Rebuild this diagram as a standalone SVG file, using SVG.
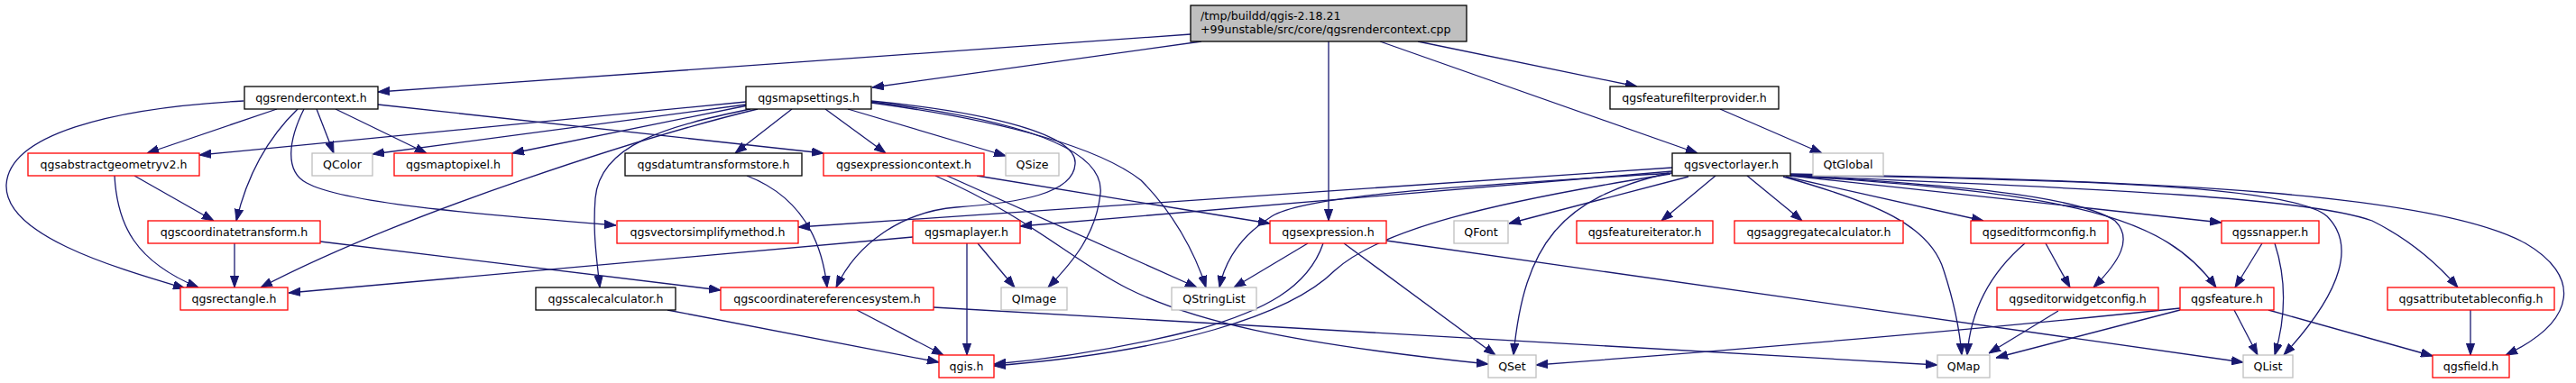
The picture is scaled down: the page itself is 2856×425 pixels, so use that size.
<svg xmlns="http://www.w3.org/2000/svg" width="2856" height="425" viewBox="0 0 2856 425">
<style>
.e path{fill:none;stroke:#191970;stroke-width:1.3}
.n rect{stroke-width:1.3}
.blk{fill:#fff;stroke:#000}
.red{fill:#fff;stroke:#ff0000}
.gry{fill:#fff;stroke:#bfbfbf}
.root{fill:#bfbfbf;stroke:#000}
text{font-family:"DejaVu Sans","Liberation Sans",sans-serif;font-size:12.6px;fill:#000;text-anchor:middle}
</style>
<defs>
<marker id="a" markerWidth="13" markerHeight="10" refX="13" refY="5" orient="auto" markerUnits="userSpaceOnUse">
<path d="M0,0.4 L13,5 L0,9.6 z" fill="#191970" stroke="#191970" stroke-width="1"/>
</marker>
</defs>
<g id="connectors" class="e" marker-end="url(#a)">
<path d="M1320,38 L419,102" marker-end="url(#a)"/>
<path d="M1332,46 L967,97" marker-end="url(#a)"/>
<path d="M1473,46 L1473,245" marker-end="url(#a)"/>
<path d="M1530,46 L1882,170" marker-end="url(#a)"/>
<path d="M1572,46 L1815,96" marker-end="url(#a)"/>
<path d="M270,112 C120,120 10,150 7,205 C5,260 120,295 205,320" marker-end="url(#a)"/>
<path d="M307,121 L163,170" marker-end="url(#a)"/>
<path d="M330,121 C300,150 275,190 262,245" marker-end="url(#a)"/>
<path d="M337,121 C320,155 315,190 340,203 C380,225 520,237 683,250" marker-end="url(#a)"/>
<path d="M351,121 L370,170" marker-end="url(#a)"/>
<path d="M372,121 L473,170" marker-end="url(#a)"/>
<path d="M419,116 L913,170" marker-end="url(#a)"/>
<path d="M827,113 L221,172" marker-end="url(#a)"/>
<path d="M827,116 L413,171" marker-end="url(#a)"/>
<path d="M829,117 L568,170" marker-end="url(#a)"/>
<path d="M840,121 C720,150 450,235 289,319" marker-end="url(#a)"/>
<path d="M832,121 C740,140 665,160 660,220 C657,260 662,290 665,319" marker-end="url(#a)"/>
<path d="M878,121 L815,170" marker-end="url(#a)"/>
<path d="M915,121 L982,170" marker-end="url(#a)"/>
<path d="M940,121 L1115,173" marker-end="url(#a)"/>
<path d="M966,113 C1150,135 1225,170 1220,215 C1215,260 1190,290 1162,319" marker-end="url(#a)"/>
<path d="M966,114 C1120,135 1220,165 1265,200 C1300,235 1325,280 1337,319" marker-end="url(#a)"/>
<path d="M966,112 C1100,125 1195,150 1192,182 C1190,215 1130,225 1060,230 C1000,235 950,270 927,319" marker-end="url(#a)"/>
<path d="M260,270 L260,319" marker-end="url(#a)"/>
<path d="M355,268 L799,322" marker-end="url(#a)"/>
<path d="M149,195 L237,245" marker-end="url(#a)"/>
<path d="M127,195 C130,250 150,290 220,319" marker-end="url(#a)"/>
<path d="M828,195 C880,215 910,255 917,319" marker-end="url(#a)"/>
<path d="M1083,195 L1408,248" marker-end="url(#a)"/>
<path d="M1050,195 L1327,319" marker-end="url(#a)"/>
<path d="M1037,195 C1140,240 1190,290 1250,320 C1320,355 1420,380 1650,404" marker-end="url(#a)"/>
<path d="M1012,263 L320,325" marker-end="url(#a)"/>
<path d="M1072,270 L1072,394" marker-end="url(#a)"/>
<path d="M1084,270 L1125,319" marker-end="url(#a)"/>
<path d="M1450,270 L1368,319" marker-end="url(#a)"/>
<path d="M1467,270 C1450,320 1400,345 1330,365 C1250,385 1170,398 1102,404" marker-end="url(#a)"/>
<path d="M1490,270 L1658,394" marker-end="url(#a)"/>
<path d="M1537,267 L2487,402" marker-end="url(#a)"/>
<path d="M1854,186 L885,252" marker-end="url(#a)"/>
<path d="M1854,190 L1131,251" marker-end="url(#a)"/>
<path d="M1854,192 C1650,205 1450,215 1410,240 C1375,262 1358,290 1352,319" marker-end="url(#a)"/>
<path d="M1852,193 C1650,225 1530,255 1480,300 C1430,350 1300,390 1102,406" marker-end="url(#a)"/>
<path d="M1850,192 C1730,220 1690,270 1678,394" marker-end="url(#a)"/>
<path d="M1872,196 L1673,248" marker-end="url(#a)"/>
<path d="M1902,195 L1842,245" marker-end="url(#a)"/>
<path d="M1937,195 L1998,245" marker-end="url(#a)"/>
<path d="M1977,196 C2080,225 2140,250 2155,300 C2168,340 2173,370 2175,394" marker-end="url(#a)"/>
<path d="M1980,196 L2199,245" marker-end="url(#a)"/>
<path d="M1985,194 C2150,205 2300,215 2345,245 C2365,265 2350,290 2321,319" marker-end="url(#a)"/>
<path d="M1985,195 L2463,247" marker-end="url(#a)"/>
<path d="M1985,195 C2300,215 2400,240 2457,319" marker-end="url(#a)"/>
<path d="M1985,194 C2300,200 2540,205 2580,240 C2610,270 2600,320 2532,394" marker-end="url(#a)"/>
<path d="M1985,195 C2350,210 2560,220 2630,245 C2670,265 2700,290 2725,319" marker-end="url(#a)"/>
<path d="M1985,193 C2400,200 2700,215 2800,270 C2860,305 2860,355 2778,394" marker-end="url(#a)"/>
<path d="M1907,121 L2020,170" marker-end="url(#a)"/>
<path d="M2268,270 L2295,319" marker-end="url(#a)"/>
<path d="M2245,270 C2210,300 2185,340 2181,394" marker-end="url(#a)"/>
<path d="M2282,345 L2205,392" marker-end="url(#a)"/>
<path d="M2508,270 L2478,319" marker-end="url(#a)"/>
<path d="M2522,270 C2535,310 2535,350 2522,394" marker-end="url(#a)"/>
<path d="M2477,344 L2503,394" marker-end="url(#a)"/>
<path d="M2515,344 L2697,395" marker-end="url(#a)"/>
<path d="M2417,344 L2213,397" marker-end="url(#a)"/>
<path d="M2417,342 C2200,365 1900,390 1703,405" marker-end="url(#a)"/>
<path d="M2739,344 L2739,394" marker-end="url(#a)"/>
<path d="M950,344 L1046,394" marker-end="url(#a)"/>
<path d="M1035,341 L2148,405" marker-end="url(#a)"/>
<path d="M740,344 L1041,402" marker-end="url(#a)"/>
</g>
<g id="root" class="n"><rect class="root" x="1320" y="6" width="306" height="40"/><text x="1331" y="22" style="text-anchor:start">/tmp/buildd/qgis-2.18.21</text><text x="1331" y="37" style="text-anchor:start">+99unstable/src/core/qgsrendercontext.cpp</text></g>
<g id="qgsrendercontext" class="n"><rect class="blk" x="271" y="96" width="148" height="25"/><text x="345" y="112.5">qgsrendercontext.h</text></g>
<g id="qgsmapsettings" class="n"><rect class="blk" x="827" y="96" width="139" height="25"/><text x="896.5" y="112.5">qgsmapsettings.h</text></g>
<g id="qgsfeaturefilterprovider" class="n"><rect class="blk" x="1785" y="96" width="187" height="25"/><text x="1878.5" y="112.5">qgsfeaturefilterprovider.h</text></g>
<g id="qgsabstractgeometryv2" class="n"><rect class="red" x="31" y="170" width="190" height="25"/><text x="126" y="186.5">qgsabstractgeometryv2.h</text></g>
<g id="QColor" class="n"><rect class="gry" x="346" y="170" width="67" height="25"/><text x="379.5" y="186.5">QColor</text></g>
<g id="qgsmaptopixel" class="n"><rect class="red" x="437" y="170" width="131" height="25"/><text x="502.5" y="186.5">qgsmaptopixel.h</text></g>
<g id="qgsdatumtransformstore" class="n"><rect class="blk" x="693" y="170" width="196" height="25"/><text x="791" y="186.5">qgsdatumtransformstore.h</text></g>
<g id="qgsexpressioncontext" class="n"><rect class="red" x="913" y="170" width="178" height="25"/><text x="1002" y="186.5">qgsexpressioncontext.h</text></g>
<g id="QSize" class="n"><rect class="gry" x="1115" y="170" width="59" height="25"/><text x="1144.5" y="186.5">QSize</text></g>
<g id="qgsvectorlayer" class="n"><rect class="blk" x="1854" y="170" width="131" height="25"/><text x="1919.5" y="186.5">qgsvectorlayer.h</text></g>
<g id="QtGlobal" class="n"><rect class="gry" x="2010" y="170" width="78" height="25"/><text x="2049" y="186.5">QtGlobal</text></g>
<g id="qgscoordinatetransform" class="n"><rect class="red" x="164" y="245" width="191" height="25"/><text x="259.5" y="261.5">qgscoordinatetransform.h</text></g>
<g id="qgsvectorsimplifymethod" class="n"><rect class="red" x="684" y="245" width="201" height="25"/><text x="784.5" y="261.5">qgsvectorsimplifymethod.h</text></g>
<g id="qgsmaplayer" class="n"><rect class="red" x="1012" y="245" width="119" height="25"/><text x="1071.5" y="261.5">qgsmaplayer.h</text></g>
<g id="qgsexpression" class="n"><rect class="red" x="1408" y="245" width="129" height="25"/><text x="1472.5" y="261.5">qgsexpression.h</text></g>
<g id="QFont" class="n"><rect class="gry" x="1612" y="245" width="60" height="25"/><text x="1642" y="261.5">QFont</text></g>
<g id="qgsfeatureiterator" class="n"><rect class="red" x="1748" y="245" width="151" height="25"/><text x="1823.5" y="261.5">qgsfeatureiterator.h</text></g>
<g id="qgsaggregatecalculator" class="n"><rect class="red" x="1923" y="245" width="187" height="25"/><text x="2016.5" y="261.5">qgsaggregatecalculator.h</text></g>
<g id="qgseditformconfig" class="n"><rect class="red" x="2185" y="245" width="152" height="25"/><text x="2261" y="261.5">qgseditformconfig.h</text></g>
<g id="qgssnapper" class="n"><rect class="red" x="2463" y="245" width="108" height="25"/><text x="2517" y="261.5">qgssnapper.h</text></g>
<g id="qgsrectangle" class="n"><rect class="red" x="200" y="319" width="119" height="25"/><text x="259.5" y="335.5">qgsrectangle.h</text></g>
<g id="qgsscalecalculator" class="n"><rect class="blk" x="594" y="319" width="155" height="25"/><text x="671.5" y="335.5">qgsscalecalculator.h</text></g>
<g id="qgscoordinatereferencesystem" class="n"><rect class="red" x="799" y="319" width="236" height="25"/><text x="917" y="335.5">qgscoordinatereferencesystem.h</text></g>
<g id="QImage" class="n"><rect class="gry" x="1110" y="319" width="73" height="25"/><text x="1146.5" y="335.5">QImage</text></g>
<g id="QStringList" class="n"><rect class="gry" x="1299" y="319" width="94" height="25"/><text x="1346" y="335.5">QStringList</text></g>
<g id="qgseditorwidgetconfig" class="n"><rect class="red" x="2214" y="319" width="179" height="25"/><text x="2303.5" y="335.5">qgseditorwidgetconfig.h</text></g>
<g id="qgsfeature" class="n"><rect class="red" x="2417" y="319" width="104" height="25"/><text x="2469" y="335.5">qgsfeature.h</text></g>
<g id="qgsattributetableconfig" class="n"><rect class="red" x="2647" y="319" width="185" height="25"/><text x="2739.5" y="335.5">qgsattributetableconfig.h</text></g>
<g id="qgis" class="n"><rect class="red" x="1041" y="394" width="61" height="25"/><text x="1071.5" y="410.5">qgis.h</text></g>
<g id="QSet" class="n"><rect class="gry" x="1650" y="394" width="53" height="25"/><text x="1676.5" y="410.5">QSet</text></g>
<g id="QMap" class="n"><rect class="gry" x="2148" y="394" width="58" height="25"/><text x="2177" y="410.5">QMap</text></g>
<g id="QList" class="n"><rect class="gry" x="2487" y="394" width="55" height="25"/><text x="2514.5" y="410.5">QList</text></g>
<g id="qgsfield" class="n"><rect class="red" x="2697" y="394" width="85" height="25"/><text x="2739.5" y="410.5">qgsfield.h</text></g>
</svg>
